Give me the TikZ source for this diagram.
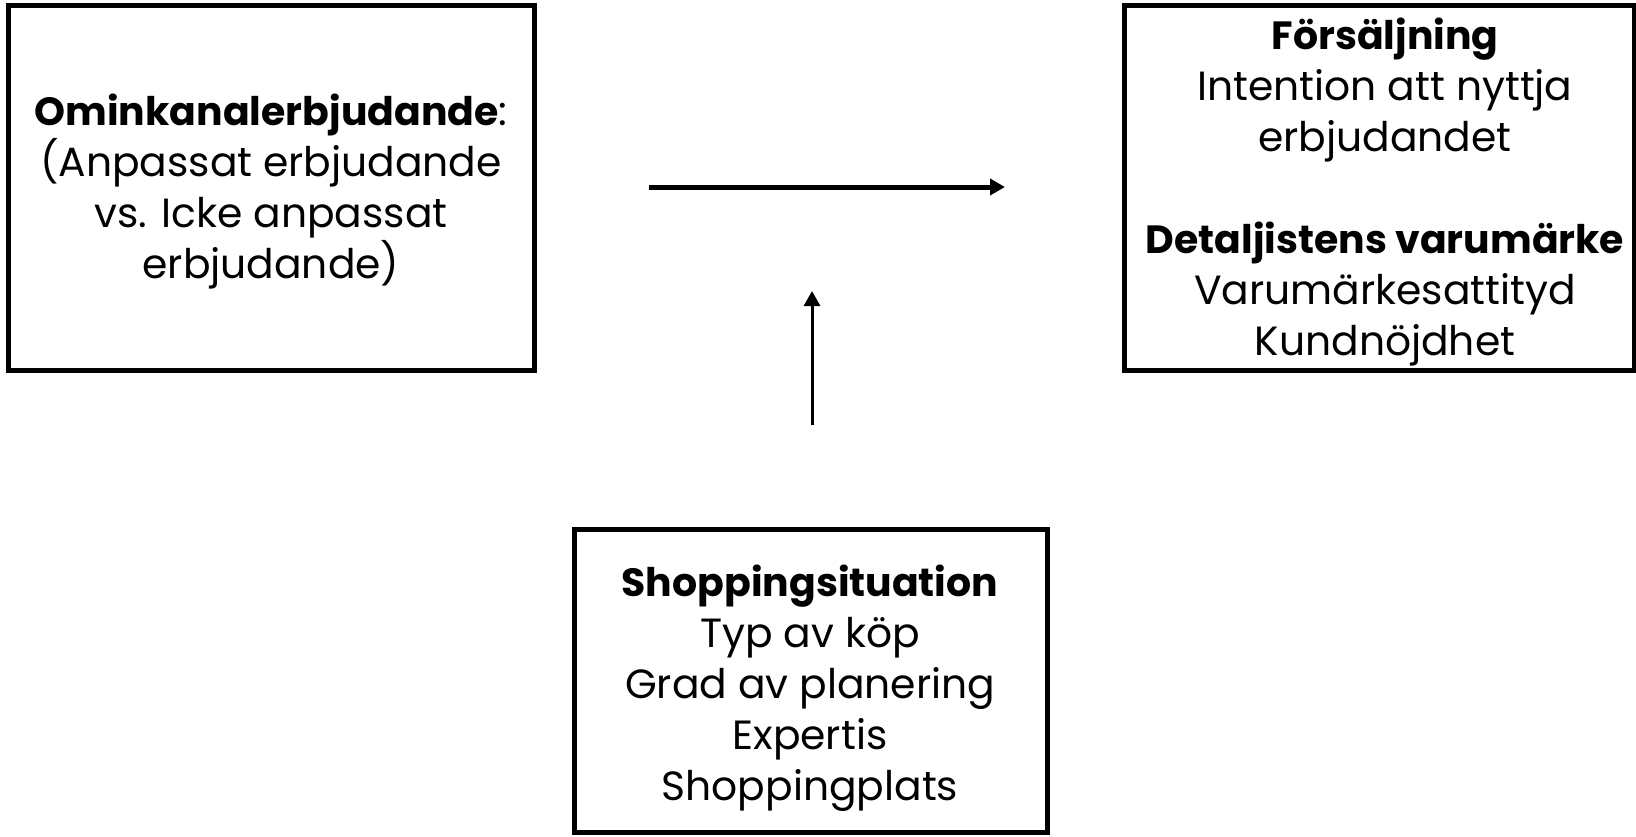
\documentclass[tikz,border=0pt]{standalone}
\usepackage{fontspec}
\setmainfont{Poppins}
\usetikzlibrary{arrows.meta}
\newcommand{\heading}[1]{{\fontsize{19.7}{25.5}\selectfont\bfseries #1}}
\begin{document}
\begin{tikzpicture}[x=0.5pt,y=-0.5pt,
  box/.style={draw, line width=2.5pt, inner sep=0pt},
  boxtext/.style={align=center, inner sep=0pt, font=\fontsize{20.4}{25.5}\selectfont},
  link/.style={-{Triangle[length=7.5pt,width=8pt]}}]
\useasboundingbox (0,0) rectangle (1636,836);

% frames
\node[box, minimum width=263pt, minimum height=182.5pt] (offer) at (271,187.5) {};
\node[box, minimum width=255pt, minimum height=182.5pt] (outcome) at (1379,187.5) {};
\node[box, minimum width=236.5pt, minimum height=151.5pt] (situation) at (810.5,680.5) {};

% contents
\node[boxtext] (offertext) at (271,192) {\heading{Ominkanalerbjudande}:\\(Anpassat erbjudande\\vs. Icke anpassat\\erbjudande)};
\node[boxtext] (outcometext) at (1385,192) {\heading{Försäljning}\\Intention att nyttja\\erbjudandet\\[25.5pt]\heading{Detaljistens varumärke}\\Varumärkesattityd\\Kundnöjdhet};
\node[boxtext] (situationtext) at (810,688) {\heading{Shoppingsituation}\\Typ av köp\\Grad av planering\\Expertis\\Shoppingplats};

% connectors
\coordinate (hstart) at (649,187);
\coordinate (hend) at (1005,187);
\coordinate (vstart) at (812,425);
\coordinate (vend) at (812,291);
\draw[link, line width=2.5pt] (hstart) -- (hend);
\draw[link, line width=1.5pt] (vstart) -- (vend);
\end{tikzpicture}
\end{document}
